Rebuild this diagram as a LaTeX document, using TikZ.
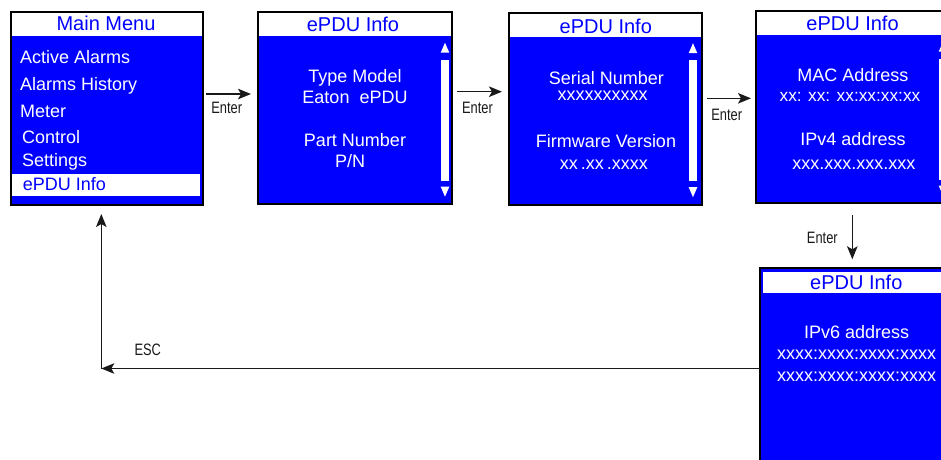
\documentclass[tikz,border=0pt]{standalone}
\usepackage{fontspec}
\setmainfont{Liberation Sans}
\newfontfamily\narrowfont[FakeStretch=0.78]{Liberation Sans}
\usetikzlibrary{arrows.meta,calc}
\definecolor{lcdblue}{RGB}{0,0,255}
\definecolor{lblgray}{RGB}{25,25,25}
\begin{document}
\begin{tikzpicture}[x=1pt,y=-1pt,
  screen/.style={fill=lcdblue,anchor=north west,inner sep=0pt,outer sep=0pt},
  frame/.style={draw=black,line width=1.8pt},
  ttl/.style={text=lcdblue,font=\fontsize{20}{20}\selectfont,anchor=base,inner sep=0pt},
  info/.style={text=white,font=\fontsize{18}{18}\selectfont,anchor=base,inner sep=0pt},
  item/.style={info,anchor=base west},
  lbl/.style={text=lblgray,font=\narrowfont\fontsize{16.5}{16.5}\selectfont,anchor=base,inner sep=0pt},
  arr/.style={-{Stealth[length=13pt,width=10.5pt,inset=3pt]},line width=1.5pt,draw=lblgray},
  sbar/.pic={
    \fill[white] (-4.3,52.7) -- (4.3,52.7) -- (0,42.7) -- cycle;
    \fill[white] (-4,59.5) rectangle (4,180.5);
    \fill[white] (-4.3,186.7) -- (4.3,186.7) -- (0,196.7) -- cycle;
  }]
\clip (0,0) rectangle (941,459);
% screens
\node[screen,minimum width=192pt,minimum height=193pt] (b1) at (11,12) {};
\node[screen,minimum width=194pt,minimum height=192pt] (b2) at (258,12) {};
\node[screen,minimum width=193pt,minimum height=192pt] (b3) at (509,13) {};
\node[screen,minimum width=194pt,minimum height=192pt] (b4) at (756,11) {};
\node[screen,minimum width=195pt,minimum height=202pt] (b5) at (760,268) {};
% headers
\fill[white] (11,12) rectangle (203,36);
\fill[white] (258,12) rectangle (452,36);
\fill[white] (509,13) rectangle (702,36.7);
\fill[white] (756,11) rectangle (950,35);
\fill[white] (762.5,271.5) rectangle (953,292.7);
% highlight in main menu
\fill[white] (12,174) rectangle (200,196);
% scroll bars
\pic at (445,0) {sbar};
\pic at (693,0.5) {sbar};
\pic at (943,-1) {sbar};
% frames
\foreach \b in {b1,b2,b3,b4,b5} \draw[frame] (\b.north west) rectangle (\b.south east);
% titles
\node[ttl] (t1) at (106,30.7) {Main Menu};
\node[ttl] (t2) at (353,31.7) {ePDU Info};
\node[ttl] (t3) at (605.8,33.3) {ePDU Info};
\node[ttl] (t4) at (852.5,30) {ePDU Info};
\node[ttl] (t5) at (856.3,289.3) {ePDU Info};
% main menu items
\node[item] (m1) at (20,63.3) {Active Alarms};
\node[item] (m2) at (20,90.7) {Alarms History};
\node[item] (m3) at (20,117.3) {Meter};
\node[item] (m4) at (22,143.3) {Control};
\node[item] (m5) at (22,166.7) {Settings};
\node[item,text=lcdblue] (m6) at (22.7,190.7) {ePDU Info};
% screen 2
\node[info] (s2a) at (355,82.7) {Type Model};
\node[info] (s2b) at (355,103.3) {Eaton\ \ ePDU};
\node[info] (s2c) at (355,146.7) {Part Number};
\node[info] (s2d) at (350,167.5) {P/N};
% screen 3
\node[info] (s3a) at (606.3,84) {Serial Number};
\node[info] (s3b) at (602.5,100.7) {xxxxxxxxxx};
\node[info] (s3c) at (606,147.3) {Firmware Version};
\node[info] (s3d) at (603.8,169) {xx\,.xx\,.xxxx};
% screen 4
\node[info] (s4a) at (852.8,81.7) {MAC Address};
\node[info,font=\fontsize{17.3}{17.3}\selectfont] (s4b) at (850,101.7) {xx: xx: xx:xx:xx:xx};
\node[info] (s4c) at (853,145.7) {IPv4 address};
\node[info] (s4d) at (853.8,169) {xxx.xxx.xxx.xxx};
% screen 5
\node[info] (s5a) at (856.7,338.3) {IPv6 address};
\node[info] (s5b) at (856.7,359.3) {xxxx:xxxx:xxxx:xxxx};
\node[info] (s5c) at (856.7,381) {xxxx:xxxx:xxxx:xxxx};
% arrows
\draw[arr] ($(b1.east)+(3,-14.5)$) -- ($(b2.west)+(-7,-14)$);
\draw[arr] ($(b2.east)+(5,-16.3)$) -- ($(b3.west)+(-7,-17.3)$);
\draw[arr] ($(b3.east)+(4.7,-10.7)$) -- ($(b4.west)+(-5,-8.7)$);
\draw[arr] ($(b4.south)+(-0.7,12)$) -- ($(b5.north)+(-5.2,-8.7)$);
\coordinate (esc) at (101.3,368.5);
\draw[arr] ($(b5.west)+(0,-0.5)$) -- (esc);
\draw[arr] (esc) -- ($(b1.south)+(-5.7,9)$);
% labels
\node[lbl] (l1) at (226.7,113.3) {Enter};
\node[lbl] (l2) at (477.5,113) {Enter};
\node[lbl] (l3) at (726.7,120) {Enter};
\node[lbl] (l4) at (822.3,243.3) {Enter};
\node[lbl] (l5) at (147.8,355) {ESC};
\end{tikzpicture}
\end{document}
